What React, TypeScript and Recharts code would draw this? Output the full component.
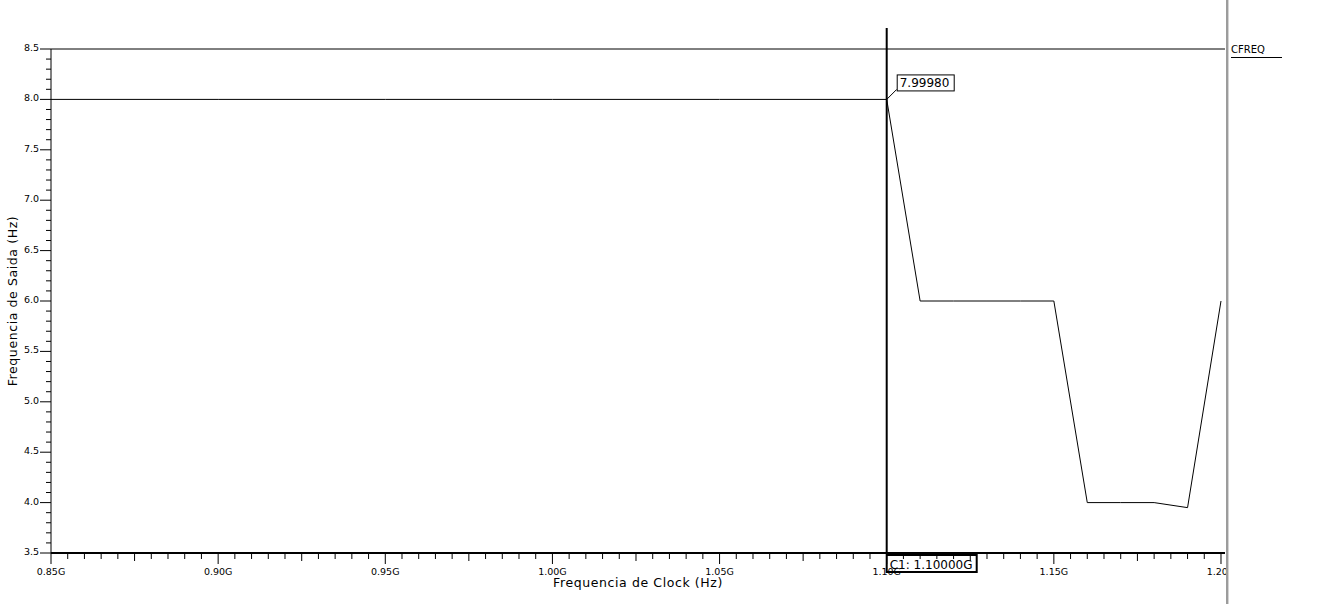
import React from 'react';
import { LineChart, Line, XAxis, YAxis, ReferenceLine, ReferenceDot, Legend } from 'recharts';

// sweep of the clock frequency (GHz) and the measured output frequency
const clockGHz = [0.85, 0.9, 0.95, 1.0, 1.05, 1.1, 1.11, 1.12, 1.13, 1.14, 1.15, 1.16, 1.17, 1.18, 1.19, 1.2];
const outputHz = [8.0, 8.0, 8.0, 8.0, 8.0, 7.9998, 6.0, 6.0, 6.0, 6.0, 6.0, 4.0, 4.0, 4.0, 3.95, 6.0];

const xLabelTicks = [0.85, 0.9, 0.95, 1.0, 1.05, 1.1, 1.15, 1.2];
const yLabelTicks = [3.5, 4.0, 4.5, 5.0, 5.5, 6.0, 6.5, 7.0, 7.5, 8.0, 8.5];

const cursorX = 1.1;
const cursorY = 7.9998;
const cursorValueText = '7.99980';
const cursorXText = 'C1: 1.10000G';
const seriesName = 'CFREQ';

const data = clockGHz.map((x, i) => ({ x, y: outputHz[i] }));

// tick marks every 0.005G / 0.1 Hz, labels only on the major ones
const xTickMarks = Array.from({ length: 71 }, (_, i) => +(0.85 + i * 0.005).toFixed(3));
const yTickMarks = Array.from({ length: 51 }, (_, i) => +(3.5 + i * 0.1).toFixed(1));

const FONT = '"DejaVu Sans", sans-serif';
const near = (a: number, b: number) => Math.abs(a - b) < 1e-6;

const XTick = (props: any) => {
  const { x, y, payload } = props;
  const v = payload.value;
  const major = xLabelTicks.some((t) => near(t, v));
  const mid = !major && near(v * 40, Math.round(v * 40));
  const len = major ? 11 : mid ? 8 : 6;
  return (
    <g>
      <line x1={x} x2={x} y1={y} y2={y + len} stroke="#000" />
      {major && (
        <text x={x} y={y + 22} textAnchor="middle" fontSize={9.5} fontFamily={FONT} fill="#000">
          {v.toFixed(2)}G
        </text>
      )}
    </g>
  );
};

const YTick = (props: any) => {
  const { x, y, payload } = props;
  const v = payload.value;
  const major = yLabelTicks.some((t) => near(t, v));
  return (
    <g>
      <line x1={x - (major ? 11 : 5)} x2={x} y1={y} y2={y} stroke="#000" />
      {major && (
        <text x={x - 12} y={y + 2} textAnchor="end" fontSize={9.5} fontFamily={FONT} fill="#000">
          {v.toFixed(1)}
        </text>
      )}
    </g>
  );
};

const CursorLine = (p: any) => {
  const top = Math.min(p.y1, p.y2);
  const bottom = Math.max(p.y1, p.y2);
  const x = p.x1;
  return (
    <g>
      <line x1={x} x2={x} y1={top - 21} y2={bottom} stroke="#000" strokeWidth={2} />
      <rect x={x} y={bottom + 2} width={90} height={17} fill="#fff" stroke="#000" strokeWidth={2} />
      <text x={x + 3} y={bottom + 16} fontSize={12} fontFamily={FONT} fill="#000">
        {cursorXText}
      </text>
    </g>
  );
};

const CursorValue = (p: any) => {
  const { cx, cy } = p;
  return (
    <g>
      <line x1={cx} y1={cy} x2={cx + 10} y2={cy - 10} stroke="#000" />
      <rect x={cx + 10.5} y={cy - 24.5} width={57} height={16} fill="#fff" stroke="#000" />
      <text x={cx + 13} y={cy - 12} fontSize={12} fontFamily={FONT} fill="#000">
        {cursorValueText}
      </text>
    </g>
  );
};

const LegendBox = (props: any) => (
  <div style={{ fontFamily: FONT, fontSize: 10, color: '#000' }}>
    {(props.payload || []).map((entry: any) => (
      <div key={entry.value} style={{ borderBottom: '1px solid #000', width: 51, lineHeight: '12px', paddingBottom: 1 }}>
        {entry.value}
      </div>
    ))}
  </div>
);

export default function App() {
  return (
    <div style={{ position: 'absolute', left: 0, top: 0, width: 1329, height: 604, background: '#fff', overflow: 'hidden' }}>
      <div
        style={{
          position: 'absolute',
          left: 1226,
          top: 0,
          width: 103,
          height: 604,
          boxSizing: 'border-box',
          background: '#fff',
          borderLeft: '2px solid #9c9c9c',
          boxShadow: 'inset 1px 0 0 #d4d4d4',
          zIndex: 1,
        }}
      />
      <LineChart width={1329} height={604} data={data} margin={{ top: 49, right: 104, bottom: 0, left: 0 }}>
        <XAxis
          dataKey="x"
          type="number"
          domain={[0.85, 1.2012]}
          ticks={xTickMarks}
          interval={0}
          tickSize={0}
          tickMargin={0}
          tick={XTick}
          height={51}
          axisLine={{ stroke: '#000', strokeWidth: 2 }}
          allowDataOverflow
          label={(lp: any) => {
            const vb = lp.viewBox || { x: 51, width: 1174, y: 553 };
            return (
              <text x={vb.x + vb.width / 2} y={587} textAnchor="middle" fontSize={12.5} letterSpacing={0.6} fontFamily={FONT} fill="#000">
                Frequencia de Clock (Hz)
              </text>
            );
          }}
        />
        <YAxis
          type="number"
          domain={[3.5, 8.5]}
          ticks={yTickMarks}
          interval={0}
          tickSize={0}
          tickMargin={0}
          tick={YTick}
          width={51}
          axisLine={{ stroke: '#000' }}
          allowDataOverflow
          label={(lp: any) => {
            const vb = lp.viewBox || { y: 49, height: 504 };
            const cy = vb.y + vb.height / 2;
            return (
              <text x={17} y={cy} textAnchor="middle" fontSize={12.5} letterSpacing={0.6} fontFamily={FONT} fill="#000" transform={`rotate(-90, 17, ${cy})`}>
                Frequencia de Saida (Hz)
              </text>
            );
          }}
        />
        <ReferenceLine y={8.5} stroke="#000" />
        <Line
          type="linear"
          dataKey="y"
          name={seriesName}
          stroke="#000"
          strokeWidth={1}
          dot={false}
          activeDot={false}
          isAnimationActive={false}
        />
        <ReferenceLine x={cursorX} shape={CursorLine} />
        <ReferenceDot x={cursorX} y={cursorY} shape={CursorValue} />
        <Legend
          layout="horizontal"
          align="center"
          verticalAlign="middle"
          content={LegendBox}
          wrapperStyle={{ position: 'absolute', left: 1231, top: 44, width: 60, zIndex: 2 }}
        />
      </LineChart>
    </div>
  );
}
